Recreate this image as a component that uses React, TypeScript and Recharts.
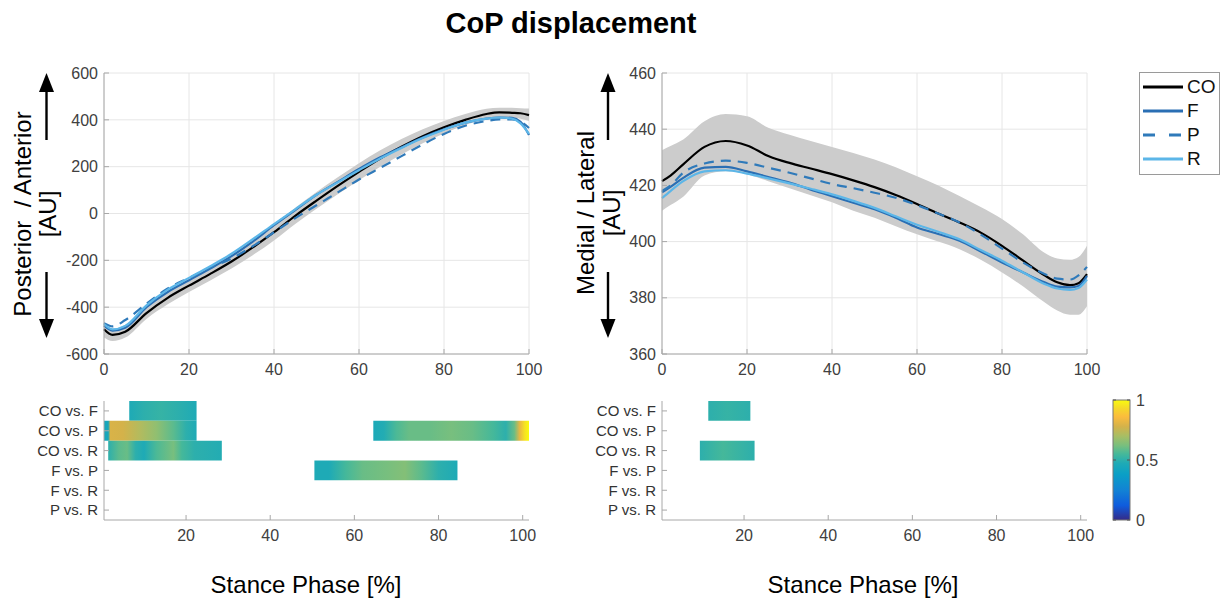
import React from "react";
import {
  ComposedChart,
  Line,
  Area,
  XAxis,
  YAxis,
  CartesianGrid,
  ReferenceArea,
  Legend,
} from "recharts";

const FONT = '"Liberation Sans", Arial, Helvetica, sans-serif';

// stance phase samples (%)
const STANCE = [0, 2, 5, 10, 15, 20, 25, 30, 35, 40, 45, 50, 55, 60, 65, 70, 75, 80, 85, 90, 93, 96, 98, 100];

// posterior / anterior
const AP_CO = [-494, -518, -505, -425, -360, -308, -258, -205, -145, -80, -10, 55, 118, 178, 235, 285, 330, 368, 400, 425, 432, 430, 428, 420];
const AP_F = [-478, -500, -488, -400, -335, -285, -235, -182, -120, -50, 15, 80, 135, 190, 240, 283, 325, 360, 388, 405, 410, 408, 392, 335];
const AP_P = [-468, -482, -455, -385, -320, -275, -232, -192, -140, -80, -20, 35, 90, 145, 195, 245, 295, 340, 375, 395, 402, 402, 392, 365];
const AP_R = [-472, -495, -480, -392, -325, -275, -225, -172, -110, -45, 18, 80, 133, 185, 235, 280, 322, 358, 388, 405, 410, 405, 385, 340];
const AP_LO = [-530, -545, -530, -450, -388, -335, -286, -235, -178, -115, -45, 20, 82, 142, 200, 252, 300, 342, 378, 405, 412, 410, 405, 395];
const AP_HI = [-462, -492, -475, -398, -332, -282, -230, -175, -112, -45, 25, 92, 155, 215, 270, 318, 360, 395, 425, 447, 452, 452, 450, 448];

// medial / lateral
const ML_CO = [421.5, 423.5, 427.5, 433.7, 435.8, 434.2, 430.5, 428, 426, 424, 421.8, 419.4, 416.6, 413.4, 410, 406.8, 403.2, 398.5, 393.2, 388, 385.5, 384.5, 385.2, 388.4];
const ML_F = [417.5, 419.5, 422.7, 426.3, 426.6, 425, 423, 421, 418.5, 416.2, 413.8, 411.5, 408.5, 405, 402.7, 400.3, 396.5, 392.6, 389, 385.5, 384, 383.7, 384.2, 387.8];
const ML_P = [418, 420, 424.5, 427.8, 428.8, 428, 426.3, 424.5, 422.5, 420.5, 419, 417.4, 415.6, 413, 410, 406.8, 402.5, 397.5, 392.5, 388.5, 386.8, 386.5, 388, 391];
const ML_R = [415.5, 418, 421.5, 425, 425.4, 424.2, 422.5, 420.7, 418.8, 416.8, 414.5, 412, 409, 406, 403.5, 400.8, 397, 393.2, 389, 384.9, 383.3, 382.8, 383.5, 386.5];
const ML_LO = [411, 413, 416, 423.5, 425, 424, 421.5, 419, 416.5, 414, 411, 408.5, 405.5, 402.6, 400, 397.3, 393.5, 389, 384, 378.4, 375.5, 374, 374, 377];
const ML_HI = [432.5, 434, 436.3, 442.8, 445.4, 444.6, 440.5, 438, 435.8, 433.7, 431.5, 429.2, 426.5, 423.3, 420, 416.2, 412.3, 408, 402.5, 396, 394, 393.5, 394.5, 398.5];

const X_TICKS = [0, 20, 40, 60, 80, 100];
const AP_TICKS = [-600, -400, -200, 0, 200, 400, 600];
const ML_TICKS = [360, 380, 400, 420, 440, 460];
const HEAT_X_TICKS = [20, 40, 60, 80, 100];
const COMPARISONS = ["CO vs. F", "CO vs. P", "CO vs. R", "F vs. P", "F vs. R", "P vs. R"];
const COLORBAR_TICKS = [1, 0.5, 0];

// significant clusters: row (1-based), [stance %, value] stops
const AP_SPM = [
  { row: 1, stops: [[6.5, 0.47], [10, 0.5], [14, 0.52], [18, 0.5], [22.5, 0.47]] },
  { row: 2, stops: [[0.5, 0.44], [1.5, 0.44], [2, 0.79], [5, 0.78], [9, 0.72], [13, 0.66], [17, 0.58], [20, 0.5], [22.5, 0.47]] },
  { row: 2, stops: [[64.5, 0.46], [67, 0.48], [70, 0.56], [73, 0.6], [78, 0.6], [83, 0.62], [88, 0.6], [93, 0.55], [96, 0.5], [98, 0.6], [99.3, 0.82], [100.5, 0.95], [101.5, 1]] },
  { row: 3, stops: [[1.5, 0.5], [4, 0.58], [6, 0.6], [8, 0.5], [10, 0.47], [13, 0.56], [17, 0.62], [19, 0.55], [22, 0.5], [28.5, 0.48]] },
  { row: 4, stops: [[50.5, 0.47], [54, 0.47], [58, 0.55], [62, 0.6], [68, 0.62], [72, 0.64], [76, 0.58], [80, 0.5], [84.5, 0.47]] },
];
const ML_SPM = [
  { row: 1, stops: [[11.5, 0.5], [16, 0.52], [21.5, 0.5]] },
  { row: 3, stops: [[9.5, 0.5], [15, 0.55], [22.5, 0.5]] },
];

const SERIES = [
  { key: "co", name: "CO", color: "#000000", dash: undefined },
  { key: "f", name: "F", color: "#2a6fb4", dash: undefined },
  { key: "p", name: "P", color: "#2f7aba", dash: "10 7" },
  { key: "r", name: "R", color: "#5cb6e8", dash: undefined },
];

const PARULA: [number, string][] = [
  [0, "#352a87"],
  [0.12, "#0f5cdd"],
  [0.25, "#1283d4"],
  [0.38, "#0a9fc6"],
  [0.47, "#1eaab6"],
  [0.55, "#45b89a"],
  [0.62, "#78bf7e"],
  [0.7, "#a8be64"],
  [0.78, "#d4b24a"],
  [0.86, "#fbbc3d"],
  [0.93, "#f5d82a"],
  [1, "#f9fb0e"],
];

function hex(c: string) {
  return [1, 3, 5].map((i) => parseInt(c.slice(i, i + 2), 16));
}

function parula(v: number) {
  for (let i = 1; i < PARULA.length; i++) {
    const [v1, c1] = PARULA[i];
    const [v0, c0] = PARULA[i - 1];
    if (v <= v1) {
      const t = (v - v0) / (v1 - v0);
      const a = hex(c0);
      const b = hex(c1);
      const rgb = a.map((x, k) => Math.round(x + (b[k] - x) * t));
      return `rgb(${rgb.join(",")})`;
    }
  }
  return PARULA[PARULA.length - 1][1];
}

function buildRows(co, f, p, r, lo, hi) {
  return STANCE.map((x, i) => ({ x, co: co[i], f: f[i], p: p[i], r: r[i], band: [lo[i], hi[i]] }));
}

const AP_ROWS = buildRows(AP_CO, AP_F, AP_P, AP_R, AP_LO, AP_HI);
const ML_ROWS = buildRows(ML_CO, ML_F, ML_P, ML_R, ML_LO, ML_HI);

const AXIS = "#a8a8a8";
const TICK = { fill: "#404040", fontSize: 16, fontFamily: FONT };

function LegendBox({ payload }: any) {
  const items = (payload ?? []).filter((e: any) => e.type !== "none");
  return (
    <div style={{ border: "1px solid #9a9a9a", background: "#fff", padding: "2px 0 3px", fontFamily: FONT }}>
      {items.map((e: any) => (
        <div key={e.value} style={{ display: "flex", alignItems: "center", height: 24 }}>
          <svg width={47} height={10} style={{ display: "block" }}>
            <line
              x1={3}
              x2={43}
              y1={5}
              y2={5}
              stroke={e.color}
              strokeWidth={3}
              strokeDasharray={e.payload?.strokeDasharray ? "12 14" : undefined}
            />
          </svg>
          <span style={{ fontSize: 19, color: "#111", lineHeight: "20px" }}>{e.value}</span>
        </div>
      ))}
    </div>
  );
}

function TracePanel({ data, ticks, left, width, marginRight, legend }: any) {
  const domain = [ticks[0], ticks[ticks.length - 1]];
  return (
    <div style={{ position: "absolute", left, top: 0 }}>
      <ComposedChart width={width} height={380} data={data} margin={{ top: 73, right: marginRight, bottom: 0, left: left === 0 ? 44 : 42 }}>
        <CartesianGrid stroke="#e6e6e6" />
        <XAxis
          dataKey="x"
          type="number"
          domain={[0, 100]}
          ticks={X_TICKS}
          interval={0}
          height={26}
          tickSize={-5}
          tickMargin={15}
          stroke={AXIS}
          tick={TICK}
        />
        <XAxis xAxisId="top" orientation="top" type="number" domain={[0, 100]} ticks={X_TICKS} interval={0} height={0} tickSize={-5} stroke={AXIS} tickFormatter={() => ""} />
        <YAxis
          type="number"
          domain={domain}
          ticks={ticks}
          interval={0}
          width={60}
          tickSize={-5}
          tickMargin={11}
          allowDataOverflow
          stroke={AXIS}
          tick={TICK}
        />
        <YAxis yAxisId="right" orientation="right" type="number" domain={domain} ticks={ticks} interval={0} width={0} tickSize={-5} stroke={AXIS} tickFormatter={() => ""} />
        <Area dataKey="band" type="monotone" stroke="none" fill="#cccccc" fillOpacity={1} legendType="none" isAnimationActive={false} />
        {SERIES.map((s) => (
          <Line
            key={s.key}
            dataKey={s.key}
            name={s.name}
            type="monotone"
            stroke={s.color}
            strokeWidth={2.2}
            strokeDasharray={s.dash}
            dot={false}
            isAnimationActive={false}
          />
        ))}
        {legend && (
          <Legend
            layout="vertical"
            align="center"
            verticalAlign="middle"
            content={<LegendBox />}
            wrapperStyle={{ left: 579, top: 72, width: 81 }}
          />
        )}
      </ComposedChart>
    </div>
  );
}

function SpmPanel({ segments, left, marginRight, idPrefix }: any) {
  return (
    <div style={{ position: "absolute", left, top: 380 }}>
      <ComposedChart width={560} height={170} margin={{ top: 21, right: marginRight, bottom: 0, left: left === 0 ? 44 : 42 }}>
        <defs>
          {segments.map((s: any, i: number) => {
            const x0 = s.stops[0][0];
            const x1 = s.stops[s.stops.length - 1][0];
            return (
              <linearGradient key={i} id={`${idPrefix}-${i}`} x1="0" y1="0" x2="1" y2="0">
                {s.stops.map(([x, v]: number[], k: number) => (
                  <stop key={k} offset={`${((x - x0) / (x1 - x0)) * 100}%`} stopColor={parula(v)} />
                ))}
              </linearGradient>
            );
          })}
        </defs>
        <XAxis
          type="number"
          dataKey="x"
          domain={[0.5, 101.5]}
          ticks={HEAT_X_TICKS}
          interval={0}
          allowDataOverflow
          height={30}
          tickSize={-5}
          tickMargin={15}
          stroke={AXIS}
          tick={TICK}
        />
        <XAxis xAxisId="top" orientation="top" type="number" domain={[0.5, 101.5]} allowDataOverflow ticks={HEAT_X_TICKS} interval={0} height={0} tickSize={-5} stroke={AXIS} tickFormatter={() => ""} />
        <YAxis
          type="number"
          domain={[0.5, 6.5]}
          reversed
          allowDataOverflow
          ticks={[1, 2, 3, 4, 5, 6]}
          interval={0}
          width={60}
          tickSize={-5}
          tickMargin={11}
          stroke={AXIS}
          tick={{ ...TICK, fontSize: 15, fill: "#333" }}
          tickFormatter={(v) => COMPARISONS[v - 1] ?? ""}
        />
        <YAxis yAxisId="right" orientation="right" type="number" domain={[0.5, 6.5]} reversed allowDataOverflow ticks={[1, 2, 3, 4, 5, 6]} interval={0} width={0} tickSize={-5} stroke={AXIS} tickFormatter={() => ""} />
        {segments.map((s: any, i: number) => (
          <ReferenceArea
            key={i}
            x1={s.stops[0][0]}
            x2={s.stops[s.stops.length - 1][0]}
            y1={s.row - 0.5}
            y2={s.row + 0.5}
            fill={`url(#${idPrefix}-${i})`}
            fillOpacity={1}
            stroke="none"
            ifOverflow="visible"
          />
        ))}
      </ComposedChart>
    </div>
  );
}

function Colorbar() {
  const h = 120;
  return (
    <svg width={60} height={140} style={{ position: "absolute", left: 1110, top: 392 }}>
      <defs>
        <linearGradient id="cbar" x1="0" y1="1" x2="0" y2="0">
          {PARULA.map(([v, c]) => (
            <stop key={v} offset={`${v * 100}%`} stopColor={c} />
          ))}
        </linearGradient>
      </defs>
      <rect x={3} y={8} width={17} height={h} fill="url(#cbar)" stroke="#777" strokeWidth={1} />
      {COLORBAR_TICKS.map((t) => (
        <g key={t}>
          <line x1={3} x2={6} y1={8 + (1 - t) * h} y2={8 + (1 - t) * h} stroke="#555" />
          <line x1={17} x2={20} y1={8 + (1 - t) * h} y2={8 + (1 - t) * h} stroke="#555" />
          <text x={26} y={8 + (1 - t) * h} dy="0.35em" fontSize={16} fontFamily={FONT} fill="#404040">
            {String(t)}
          </text>
        </g>
      ))}
    </svg>
  );
}

function Arrows({ x }: { x: number }) {
  return (
    <g fill="#000" stroke="#000">
      <line x1={x} x2={x} y1={88} y2={140} strokeWidth={2.4} />
      <path d={`M${x} 73 L${x - 7.5} 92 L${x + 7.5} 92 Z`} stroke="none" />
      <line x1={x} x2={x} y1={272} y2={322} strokeWidth={2.4} />
      <path d={`M${x} 338 L${x - 7.5} 319 L${x + 7.5} 319 Z`} stroke="none" />
    </g>
  );
}

function AxisTitles() {
  const txt = { fontSize: 24, fontFamily: FONT, fill: "#000", textAnchor: "middle" as const };
  return (
    <svg width={1225} height={598} style={{ position: "absolute", left: 0, top: 0, pointerEvents: "none" }}>
      <text x={31} y={214} transform="rotate(-90 31 214)" style={{ whiteSpace: "pre" }} {...txt}>
        Posterior  / Anterior
      </text>
      <text x={56} y={214} transform="rotate(-90 56 214)" {...txt}>
        [AU]
      </text>
      <Arrows x={46.5} />
      <text x={594} y={213} transform="rotate(-90 594 213)" {...txt}>
        Medial / Lateral
      </text>
      <text x={620} y={213} transform="rotate(-90 620 213)" {...txt}>
        [AU]
      </text>
      <Arrows x={608} />
    </svg>
  );
}

export default function App() {
  const label = { position: "absolute" as const, top: 572, fontSize: 24, lineHeight: "26px", fontFamily: FONT, color: "#000", transform: "translateX(-50%)", whiteSpace: "nowrap" as const };
  return (
    <div style={{ position: "absolute", left: 0, top: 0, width: 1225, height: 598, background: "#fff", overflow: "hidden" }}>
      <div style={{ position: "absolute", left: 571, top: 7, transform: "translateX(-50%)", fontSize: 29, lineHeight: "32px", fontWeight: 700, fontFamily: FONT, whiteSpace: "nowrap" }}>
        CoP displacement
      </div>
      <TracePanel data={AP_ROWS} ticks={AP_TICKS} left={0} width={560} marginRight={31} />
      <TracePanel data={ML_ROWS} ticks={ML_TICKS} left={560} width={665} marginRight={138} legend />
      <SpmPanel segments={AP_SPM} left={0} marginRight={31} idPrefix="ap" />
      <SpmPanel segments={ML_SPM} left={560} marginRight={33} idPrefix="ml" />
      <Colorbar />
      <AxisTitles />
      <div style={{ ...label, left: 306 }}>Stance Phase [%]</div>
      <div style={{ ...label, left: 863 }}>Stance Phase [%]</div>
    </div>
  );
}
